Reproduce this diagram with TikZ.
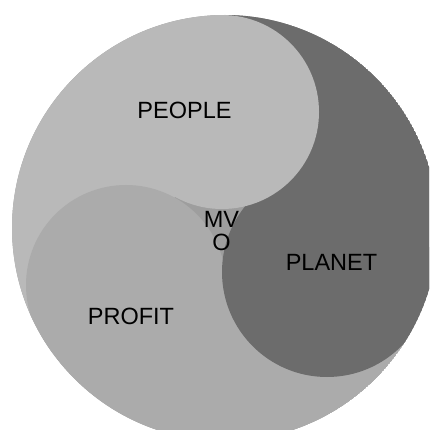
\documentclass[tikz,border=0pt]{standalone}
\usepackage{fontspec}
\setmainfont{Liberation Sans}
\definecolor{gapc}{HTML}{9E9E9E}
\definecolor{peoplec}{HTML}{B9B9B9}
\definecolor{profitc}{HTML}{ABABAB}
\definecolor{planetc}{HTML}{6C6C6C}
\tikzset{lbl/.style={inner sep=0pt, anchor=base, font=\fontsize{23.5}{24}\selectfont}}
\begin{document}
\begin{tikzpicture}[x=1pt,y=-1pt]
\useasboundingbox (0,0) rectangle (429,430);
\clip (0,0) rectangle (429,430);
\coordinate (O) at (225,228);
\coordinate (Cp) at (222,112);
\coordinate (Cf) at (126,285);
\coordinate (Cn) at (327,272);
\begin{scope}
\clip (O) circle (213);
\fill[gapc] (O) circle (213);
% crescents
\fill[planetc] (O) ++(23.3:213) arc[start angle=23.3, end angle=-91.5, radius=213] -- (Cp) -- (Cn) -- cycle;
\fill[peoplec] (O) ++(268.5:213) arc[start angle=268.5, end angle=150.1, radius=213] -- (Cf) -- (Cp) -- cycle;
\fill[profitc] (O) ++(150.1:213) arc[start angle=150.1, end angle=23.3, radius=213] -- (Cn) -- (Cf) -- cycle;
% circles
\fill[profitc] (Cf) circle (100);
\fill[planetc] (Cn) circle (105);
\fill[peoplec] (Cp) circle (97);
\end{scope}
\node[lbl] (people) at (184.5,119) {PEOPLE};
\node[lbl] (planet) at (331.5,270) {PLANET};
\node[lbl] (profit) at (131,324) {PROFIT};
\node[lbl] (mv) at (221.5,227) {MV};
\node[lbl] (o) at (221.5,250) {O};
\end{tikzpicture}
\end{document}
